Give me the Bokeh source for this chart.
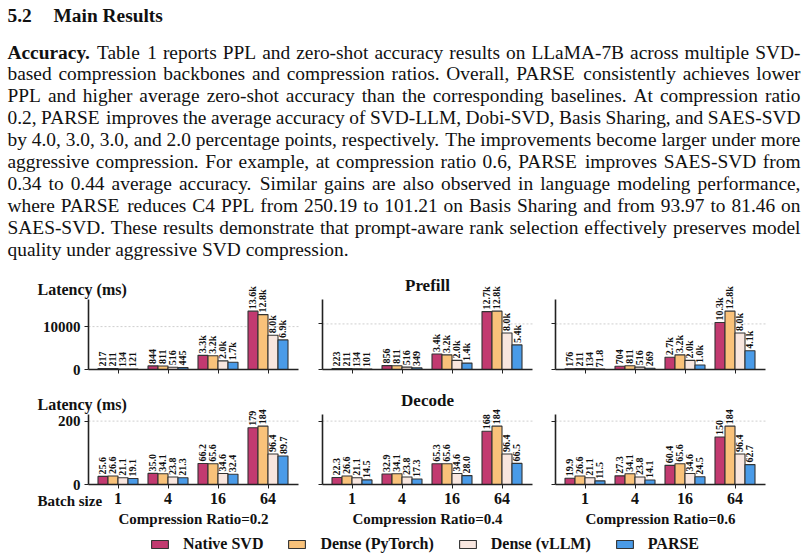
from bokeh.plotting import figure
from bokeh.models import (ColumnDataSource, Range1d, FixedTicker, LabelSet, Label,
                          Legend, LegendItem, LinearAxis)
from bokeh.transform import dodge
from bokeh.layouts import column, row
from bokeh.core.properties import value
from bokeh.embed import file_html
from bokeh.resources import INLINE

# ---------------- data ----------------
batch_sizes = ["1", "4", "16", "64"]
ratios = ["0.2", "0.4", "0.6"]
series_names = ["Native SVD", "Dense (PyTorch)", "Dense (vLLM)", "PARSE"]
series_colors = ["#C23A70", "#F9C27A", "#F8E6DF", "#4A9BE8"]

# prefill latency (ms), one list per compression ratio (0.2, 0.4, 0.6)
prefill_native_svd = [[217, 844, 3300, 13600], [223, 856, 3400, 12700], [176, 704, 2700, 10300]]
prefill_dense_pytorch = [[211, 811, 3200, 12800], [211, 811, 3200, 12800], [211, 811, 3200, 12800]]
prefill_dense_vllm = [[134, 516, 2000, 8000], [134, 516, 2000, 8000], [134, 516, 2000, 8000]]
prefill_parse = [[121, 445, 1700, 6900], [101, 349, 1400, 5400], [71.8, 269, 1000, 4100]]

# decode latency (ms)
decode_native_svd = [[25.6, 35.0, 66.2, 179], [22.3, 32.9, 65.3, 168], [19.9, 27.3, 60.4, 150]]
decode_dense_pytorch = [[26.6, 34.1, 65.6, 184], [26.6, 34.1, 65.6, 184], [26.6, 34.1, 65.6, 184]]
decode_dense_vllm = [[21.1, 23.8, 34.6, 96.4], [21.1, 23.8, 34.6, 96.4], [21.1, 23.8, 34.6, 96.4]]
decode_parse = [[19.1, 21.3, 32.4, 89.7], [14.5, 17.3, 28.0, 66.5], [11.5, 14.1, 24.5, 62.7]]

prefill_ticks = [0, 10000]
decode_ticks = [0, 200]

heading_num = "5.2"
heading_text = "Main Results"
para_lead = "Accuracy."
para_lines = [
    "Table 1 reports PPL and zero-shot accuracy results on LLaMA-7B across multiple SVD-",
    "based compression backbones and compression ratios. Overall, PARSE consistently achieves lower",
    "PPL and higher average zero-shot accuracy than the corresponding baselines. At compression ratio",
    "0.2, PARSE improves the average accuracy of SVD-LLM, Dobi-SVD, Basis Sharing, and SAES-SVD",
    "by 4.0, 3.0, 3.0, and 2.0 percentage points, respectively. The improvements become larger under more",
    "aggressive compression. For example, at compression ratio 0.6, PARSE improves SAES-SVD from",
    "0.34 to 0.44 average accuracy. Similar gains are also observed in language modeling performance,",
    "where PARSE reduces C4 PPL from 250.19 to 101.21 on Basis Sharing and from 93.97 to 81.46 on",
    "SAES-SVD. These results demonstrate that prompt-aware rank selection effectively preserves model",
    "quality under aggressive SVD compression.",
]

FONT = "Liberation Serif"
EDGE = "#333333"
INK = "#111111"


def fmt(v):
    if v >= 1000:
        return f"{v / 1000:.1f}k"
    if v >= 100:
        return f"{v:.0f}"
    return f"{v:.1f}"


def bare_fig(w, h, xr, yr):
    f = figure(width=w, height=h, x_range=xr, y_range=yr,
               x_axis_type=None, y_axis_type=None, toolbar_location=None,
               output_backend="svg", min_border=0, min_border_left=0,
               min_border_right=0, min_border_top=0, min_border_bottom=0)
    f.outline_line_color = None
    f.grid.visible = False
    return f


# ---------------- text block (justified) ----------------
FS = 19.4
LEAD = 21.9
TXT_X0, TXT_X1 = 7, 800
HEAD_Y = 15
BODY_Y0 = 51.5
REG_W = {" ": 250, "!": 333, "(": 333, ")": 333, ",": 250, "-": 333, ".": 250, "/": 278,
         ":": 278, ";": 278, "=": 564,
         "A": 722, "B": 667, "C": 667, "D": 722, "E": 611, "F": 556, "G": 722, "H": 722,
         "I": 333, "J": 389, "K": 722, "L": 611, "M": 889, "N": 722, "O": 722, "P": 556,
         "Q": 722, "R": 667, "S": 556, "T": 611, "U": 722, "V": 722, "W": 944, "X": 722,
         "Y": 722, "Z": 611,
         "a": 444, "b": 500, "c": 444, "d": 500, "e": 444, "f": 333, "g": 500, "h": 500,
         "i": 278, "j": 278, "k": 500, "l": 278, "m": 778, "n": 500, "o": 500, "p": 500,
         "q": 500, "r": 333, "s": 389, "t": 278, "u": 500, "v": 500, "w": 722, "x": 500,
         "y": 500, "z": 444}
BOLD_W = {"A": 722, "c": 444, "u": 556, "r": 444, "a": 500, "y": 500, ".": 250}


def tw(s, table):
    return sum(table.get(ch, 500) for ch in s) / 1000.0 * FS


tf = bare_fig(808, 275, Range1d(0, 808), Range1d(275, 0))
common_txt = dict(text_font=value(FONT), text_font_size=value(f"{FS}px"),
                  text_baseline="alphabetic", text_align="left", text_color=INK)
bold_x = [TXT_X0, 53, TXT_X0]
bold_y = [HEAD_Y, HEAD_Y, BODY_Y0]
bold_t = [heading_num, heading_text, para_lead]
reg_x, reg_y, reg_t = [], [], []
for i, line in enumerate(para_lines):
    y = BODY_Y0 + LEAD * i
    words = line.split(" ")
    if i == 0:
        widths = [tw(para_lead, BOLD_W)] + [tw(w, REG_W) for w in words]
    else:
        widths = [tw(w, REG_W) for w in words]
    n_gaps = len(widths) - 1
    if i == len(para_lines) - 1:
        gap = tw(" ", REG_W)
    else:
        gap = (TXT_X1 - TXT_X0 - sum(widths)) / n_gaps
    x = TXT_X0
    xs_line = []
    for w in widths:
        xs_line.append(x)
        x += w + gap
    if i == 0:
        xs_line = xs_line[1:]
    for w, xx in zip(words, xs_line):
        reg_x.append(xx)
        reg_y.append(y)
        reg_t.append(w)
tf.text(x=bold_x, y=bold_y, text=bold_t, text_font_style="bold", **common_txt)
tf.text(x=reg_x, y=reg_y, text=reg_t, **common_txt)

# ---------------- panels ----------------
# page geometry (px): (left, right, y-axis position) per column; (top, bottom, zero line) per row
COLS = [(0, 310, 88), (310, 543, 322), (543, 808, 555)]
ROWS = [(275, 391, 369), (391, 528, 484)]
FRAME_H = 70.0
AX_X0, AX_X1 = -0.59, 3.61
CAT_PX = 50.0
offsets = [-0.3, -0.1, 0.1, 0.3]
keys = ["s0", "s1", "s2", "s3"]
legend_src = None


def panel(stage_series, r, ticks, col, bottom_row, title):
    global legend_src
    left, right, ax_px = COLS[col]
    top, bottom, zero_px = ROWS[1 if bottom_row else 0]
    vals = [s[r] for s in stage_series]
    ymax = max(max(v) for v in vals) * 1.2

    def fx(px):
        return AX_X0 + (px - ax_px) / CAT_PX

    def fy(py):
        return (zero_px - py) * ymax / FRAME_H

    data = dict(x=list(range(len(batch_sizes))))
    for k, v in zip(keys, vals):
        data[k] = v
        data[k + "_lab"] = [fmt(t) for t in v]
    src = ColumnDataSource(data)
    if legend_src is None:
        legend_src = src

    p = bare_fig(right - left, bottom - top, Range1d(fx(left), fx(right)),
                 Range1d(fy(bottom), fy(top)))

    gt = [t for t in ticks if t > 0]
    p.segment(x0=[AX_X0] * len(gt), x1=[AX_X1] * len(gt), y0=gt, y1=gt,
              line_color="#cfcfcf", line_dash="2 2", line_width=1)

    for k, off, c in zip(keys, offsets, series_colors):
        p.vbar(x=dodge("x", off), top=k, bottom=0, width=0.2, source=src,
               fill_color=c, line_color=EDGE, line_width=1.1)
        p.add_layout(LabelSet(x=dodge("x", off), y=k, text=k + "_lab", source=src,
                              angle=90, angle_units="deg", text_align="left",
                              text_baseline="middle", y_offset=2,
                              text_font=value(FONT), text_font_style="bold",
                              text_font_size="10px", text_color=INK))

    xa = LinearAxis(ticker=FixedTicker(ticks=list(range(len(batch_sizes)))),
                    fixed_location=0, bounds=(AX_X0, AX_X1),
                    major_label_overrides={i: b for i, b in enumerate(batch_sizes)})
    ya = LinearAxis(ticker=FixedTicker(ticks=ticks), fixed_location=AX_X0,
                    bounds=(0, ymax))
    for ax in (xa, ya):
        ax.axis_line_color = "#222222"
        ax.axis_line_width = 1.6
        ax.major_tick_in = 0
        ax.major_tick_out = 4
        ax.major_tick_line_color = "#222222"
        ax.minor_tick_line_color = None
        ax.major_label_text_font = FONT
        ax.major_label_text_font_style = "bold"
        ax.major_label_text_color = INK
        ax.major_label_standoff = 4
    ya.major_label_text_font_size = "15px"
    xa.major_label_text_font_size = "16px"
    if col != 0:
        ya.major_label_text_color = None
    if not bottom_row:
        xa.major_label_text_color = None
    p.add_layout(xa, "below")
    p.add_layout(ya, "left")

    lab = dict(text_font=FONT, text_font_style="bold", text_color=INK,
               text_baseline="middle")
    cx = ax_px + 105
    if col == 0:
        p.add_layout(Label(x=fx(37), y=fy(404 if bottom_row else 289),
                           text="Latency (ms)", text_align="left",
                           text_font_size="16px", **lab))
    if title:
        p.add_layout(Label(x=fx(cx), y=fy(400 if bottom_row else 285), text=title,
                           text_align="center", text_font_size="17px", **lab))
    if bottom_row:
        if col == 0:
            p.add_layout(Label(x=fx(37), y=fy(500), text="Batch size",
                               text_align="left", text_font_size="15px", **lab))
        p.add_layout(Label(x=fx(cx), y=fy(518), text=f"Compression Ratio={ratios[r]}",
                           text_align="center", text_font_size="15px", **lab))
    return p


prefill = [prefill_native_svd, prefill_dense_pytorch, prefill_dense_vllm, prefill_parse]
decode = [decode_native_svd, decode_dense_pytorch, decode_dense_vllm, decode_parse]

row1 = [panel(prefill, i, prefill_ticks, i, False, "Prefill" if i == 1 else None) for i in range(3)]
row2 = [panel(decode, i, decode_ticks, i, True, "Decode" if i == 1 else None) for i in range(3)]

# ---------------- legend ----------------
lf = bare_fig(808, 31, Range1d(-1, 4), Range1d(0, 1))
items = []
for k, off, c, n in zip(keys, offsets, series_colors, series_names):
    rr = lf.vbar(x=dodge("x", off), top=k, bottom=0, width=0.2, source=legend_src,
                 fill_color=c, line_color=EDGE, line_width=1.1, visible=False)
    items.append(LegendItem(label=n, renderers=[rr]))
legend = Legend(items=items, location=(149, 6), orientation="horizontal",
                glyph_width=21, glyph_height=10, label_standoff=13, spacing=23,
                padding=0, margin=0, border_line_color=None, background_fill_alpha=0,
                inactive_fill_alpha=0,
                label_text_font=FONT, label_text_font_style="bold",
                label_text_font_size="16px", label_text_color=INK)
lf.add_layout(legend, "center")

layout = column(tf, row(*row1), row(*row2), lf)

open("out.html", "w").write(file_html(layout, INLINE))
